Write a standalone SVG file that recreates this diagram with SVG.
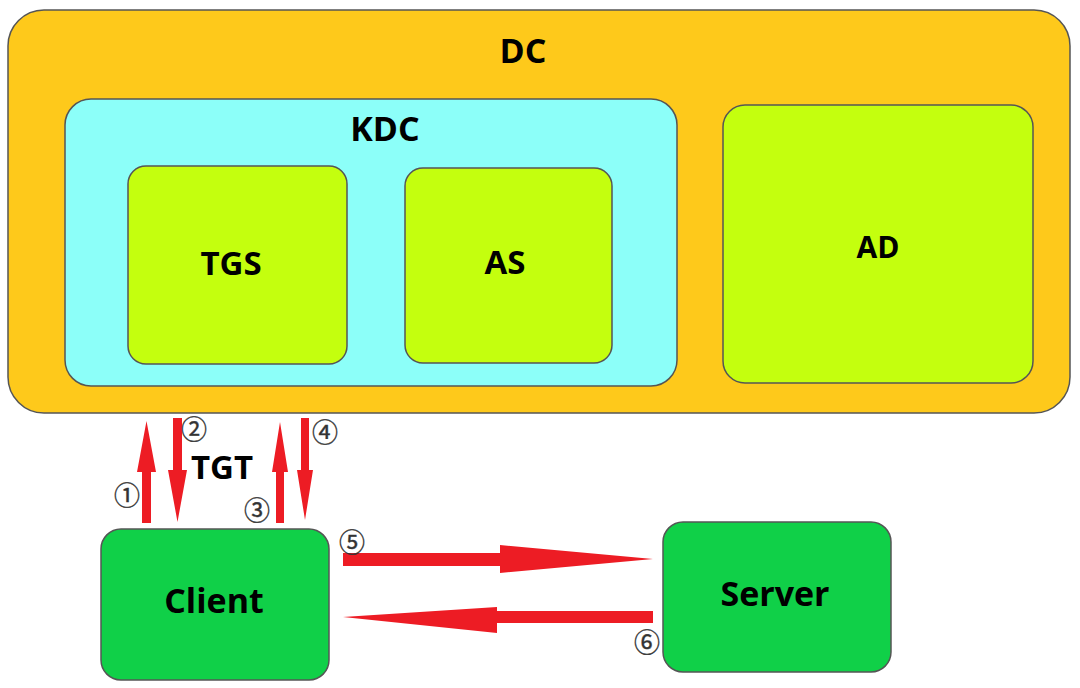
<svg xmlns="http://www.w3.org/2000/svg" width="1080" height="688" viewBox="0 0 1080 688">
<style>
.box{stroke:#555;stroke-width:1.5}
.lbl{font-family:"Open Sans","Noto Sans","DejaVu Sans",sans-serif;font-weight:bold;fill:#000;text-anchor:middle}
.num{font-family:"Noto Sans CJK SC","DejaVu Sans",sans-serif;font-size:26px;fill:#333;stroke:#333;stroke-width:0.4;text-anchor:middle}
.arr{fill:#ED1C24}
</style>
<rect width="1080" height="688" fill="#fff"/>
<g id="DC">
<rect class="box" x="8" y="10" width="1062" height="403" rx="36" fill="#FEC91B"/>
<text class="lbl" x="523" y="63" font-size="34">DC</text>
</g>
<g id="KDC">
<rect class="box" x="65" y="99" width="612" height="287" rx="26" fill="#8CFFF9"/>
<text class="lbl" x="385" y="141" font-size="34">KDC</text>
</g>
<g id="TGS">
<rect class="box" x="128" y="166" width="219" height="198" rx="18" fill="#C4FF0E"/>
<text class="lbl" x="231" y="275" font-size="33">TGS</text>
</g>
<g id="AS">
<rect class="box" x="405" y="168" width="207" height="195" rx="18" fill="#C4FF0E"/>
<text class="lbl" x="505" y="274" font-size="33">AS</text>
</g>
<g id="AD">
<rect class="box" x="723" y="105" width="310" height="278" rx="22" fill="#C4FF0E"/>
<text class="lbl" x="878" y="258" font-size="30">AD</text>
</g>
<g id="Client">
<rect class="box" x="101" y="529" width="228" height="151" rx="20" fill="#10D048"/>
<text class="lbl" x="214" y="613" font-size="34">Client</text>
</g>
<g id="Server">
<rect class="box" x="663" y="522" width="228" height="150" rx="20" fill="#10D048"/>
<text class="lbl" x="775" y="606" font-size="34">Server</text>
</g>
<g id="connectors">
<polygon class="arr" points="142,523 151,523 151,472 156,472 146.5,421 137,472 142,472"/>
<polygon class="arr" points="173,418 182,418 182,470 187,470 177.5,522 168,470 173,470"/>
<polygon class="arr" points="276,523 284,523 284,472 288,472 280,422 272,472 276,472"/>
<polygon class="arr" points="301,418 309,418 309,470 313,470 305,520 297,470 301,470"/>
<polygon class="arr" points="343,553 500,553 500,545 653,559 500,573 500,566 343,566"/>
<polygon class="arr" points="653,611 497,611 497,607 343,617 497,633 497,623 653,623"/>
<text class="num" x="127" y="505">①</text>
<text class="num" x="194" y="439">②</text>
<text class="num" x="257" y="520">③</text>
<text class="num" x="325" y="442">④</text>
<text class="num" x="352" y="552">⑤</text>
<text class="num" x="647" y="652">⑥</text>
<text class="lbl" x="222" y="479" font-size="33">TGT</text>
</g>
</svg>
